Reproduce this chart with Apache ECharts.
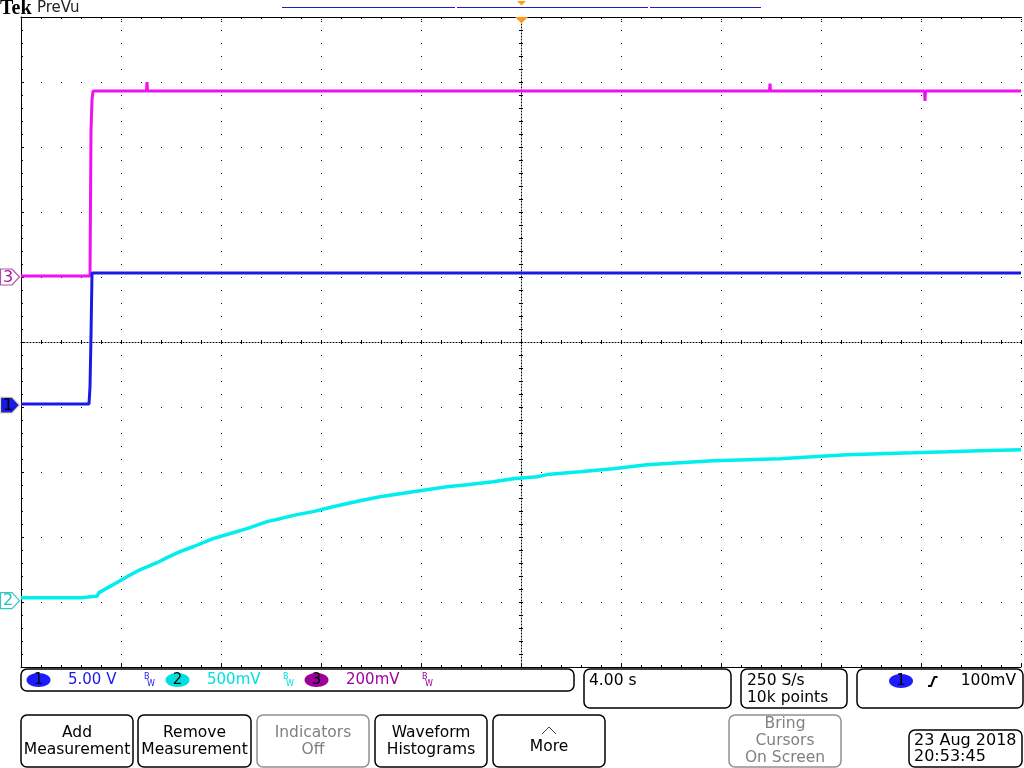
<!DOCTYPE html>
<html><head><meta charset="utf-8">
<script src="https://cdn.jsdelivr.net/npm/echarts@6/dist/echarts.min.js"></script>
<style>html,body{margin:0;padding:0;background:#fff}#c{width:1024px;height:768px}</style>
</head><body><div id="c"></div>
<script>
// ---- Data (time in seconds, 4.00 s/div, trigger at centre) ----
const timeMin = -20, timeMax = 20, timePerDiv = 4;
// Channel settings
const channelLabels  = ['1', '2', '3'];
const channelScales  = [5.0, 0.5, 0.2];     // V/div
const channelOffsets = [-0.97, -3.98, 1.0]; // position in divisions
const channelScaleText = ['5.00 V', '500mV', '200mV'];

// CH1 (blue)
const ch1Time  = [-20, -17.28, -17.24, -17.2, -17.16, 20];
const ch1Volts = [0.08, 0.08, 1.4, 5.3, 10.15, 10.15];

// CH2 (cyan)
const ch2Time  = [-20, -17.56, -17.24, -16.96, -16.88, -16.32, -15.76, -15.24, -14.56, -14.16,
                  -13.64, -13.12, -12.32, -11.52, -10.96, -10.16, -9.64, -8.96, -8.32, -7.52,
                  -6.44, -5.64, -4.84, -4.32, -2.96, -2.16, -1.12, -0.32, 0.64, 1.04,
                  2.36, 3.68, 5.04, 6.36, 7.68, 9.04, 10.36, 11.68, 13.04, 14.36,
                  15.68, 17.04, 18.36, 20];
const ch2Volts = [0.023, 0.023, 0.031, 0.035, 0.062, 0.123, 0.185, 0.238, 0.292, 0.331,
                  0.377, 0.415, 0.477, 0.523, 0.554, 0.608, 0.631, 0.662, 0.685, 0.723,
                  0.769, 0.800, 0.823, 0.838, 0.877, 0.892, 0.915, 0.938, 0.954, 0.970,
                  0.992, 1.015, 1.046, 1.062, 1.077, 1.085, 1.092, 1.108, 1.123, 1.131,
                  1.138, 1.146, 1.154, 1.162];

// CH3 (magenta)
const ch3Time  = [-20, -17.24, -17.2, -17.16, -17.12, -14.98, -14.96, -14.94, 9.94, 9.96, 9.98, 16.14, 16.16, 16.18, 20];
const ch3Volts = [0.003, 0.003, 0.45, 0.545, 0.572, 0.572, 0.600, 0.572, 0.572, 0.595, 0.572, 0.572, 0.542, 0.572, 0.572];

// ---- Build series data in screen divisions ----
function toDiv(times, volts, ch) {
  return times.map((t, i) => [t, channelOffsets[ch] + volts[i] / channelScales[ch]]);
}
const ch1Data = toDiv(ch1Time, ch1Volts, 0);
const ch2Data = toDiv(ch2Time, ch2Volts, 1);
const ch3Data = toDiv(ch3Time, ch3Volts, 2);

const C1 = '#1a1ae6', C2 = '#00eeee', C3 = '#f010f0', C3dark = '#a000a0';
const FONT = '"DejaVu Sans", Verdana, sans-serif';

const hide = {axisLabel:{show:false}, splitLine:{show:false}};
function xAx(extra) {
  return Object.assign({type:'value', min:timeMin, max:timeMax, interval:timePerDiv}, hide, extra);
}
function yAx(extra) {
  return Object.assign({type:'value', min:-5, max:5, interval:1}, hide, extra);
}
const blk = {color:'#000', width:1};

const chart = echarts.init(document.getElementById('c'), null, {renderer:'canvas'});
chart.setOption({
  animation:false,
  backgroundColor:'#fff',
  grid:{left:21, top:17, width:1000, height:650, outerBoundsMode:'none', containLabel:false},
  xAxis:[
    xAx({position:'bottom', axisLine:{show:true, onZero:false, lineStyle:blk},
         axisTick:{show:true, inside:true, length:4, lineStyle:blk},
         minorTick:{show:true, splitNumber:5, length:2, lineStyle:blk},
         splitLine:{show:true, lineStyle:{color:'#000', width:1, type:[1,12]}}}),
    xAx({position:'top', axisLine:{show:true, onZero:false, lineStyle:blk},
         axisTick:{show:true, inside:true, length:5, lineStyle:{color:'#000', width:1, type:[1,1]}},
         minorTick:{show:true, splitNumber:5, length:2, lineStyle:blk}}),
    xAx({position:'bottom', axisLine:{show:true, onZero:true, onZeroAxisIndex:0, lineStyle:{color:'#000', width:1, type:[1,2]}},
         axisTick:{show:true, inside:false, length:2, lineStyle:blk},
         minorTick:{show:true, splitNumber:5, length:2, lineStyle:blk}}),
    xAx({position:'bottom', axisLine:{show:false, onZero:true, onZeroAxisIndex:0},
         axisTick:{show:true, inside:true, length:2, lineStyle:blk},
         minorTick:{show:true, splitNumber:5, length:2, lineStyle:blk}})
  ],
  yAxis:[
    yAx({position:'left', axisLine:{show:true, onZero:false, lineStyle:blk},
         axisTick:{show:true, inside:true, length:3, lineStyle:blk},
         minorTick:{show:true, splitNumber:5, length:2, lineStyle:blk},
         splitLine:{show:true, lineStyle:{color:'#000', width:1, type:[1,19]}}}),
    yAx({position:'left', axisLine:{show:true, onZero:true, onZeroAxisIndex:0, lineStyle:{color:'#000', width:1, type:[1,2]}},
         axisTick:{show:true, inside:false, length:2, lineStyle:blk},
         minorTick:{show:true, splitNumber:5, length:2, lineStyle:blk}}),
    yAx({position:'left', axisLine:{show:false, onZero:true, onZeroAxisIndex:0},
         axisTick:{show:true, inside:true, length:2, lineStyle:blk},
         minorTick:{show:true, splitNumber:5, length:2, lineStyle:blk}})
  ],
  series:[
    {type:'line', name:'CH3', data:ch3Data, showSymbol:false, silent:true, z:3,
     lineStyle:{color:C3, width:3}},
    {type:'line', name:'CH1', data:ch1Data, showSymbol:false, silent:true, z:4,
     lineStyle:{color:C1, width:3}},
    {type:'line', name:'CH2', data:ch2Data, showSymbol:false, silent:true, z:5,
     lineStyle:{color:C2, width:3.5}}
  ]
});

// ---- Oscilloscope chrome ----
const g = [];
function txt(text, x, y, fill, size, align, extra) {
  g.push({type:'text', z:100, style:Object.assign({text:text, x:x, y:y, fill:fill||'#000',
    font:(size||15)+'px '+FONT, textAlign:align||'left', textVerticalAlign:'middle'}, extra||{})});
}
function rrect(x, y, w, h, stroke, lw) {
  g.push({type:'rect', z:90, shape:{x:x, y:y, width:w, height:h, r:6},
    style:{fill:'#fff', stroke:stroke||'#000', lineWidth:lw||1.5}});
}
function ell(cx, cy, fill, label) {
  g.push({type:'ellipse', z:95, shape:{cx:cx, cy:cy, rx:12, ry:7}, style:{fill:fill}});
  txt(label, cx, cy+0.5, '#000', 15, 'center');
}
function bw(x, color) {
  txt('B', x, 677, color, 8, 'left');
  txt('W', x+3, 684, color, 8, 'left');
}

// Header
txt('Tek', 0, 8.5, '#000', 20, 'left', {font:'bold 20px "Liberation Serif", serif'});
txt('PreVu', 37, 8, '#222', 15, 'left');
[[282,455],[457,648],[650,761]].forEach(s => g.push({type:'line', z:90,
  shape:{x1:s[0], y1:7.5, x2:s[1], y2:7.5}, style:{stroke:'#1c1cc8', lineWidth:1}}));
g.push({type:'polygon', z:95, shape:{points:[[517,1],[526,1],[521.5,5.5]]}, style:{fill:'#ff9c1a'}});
g.push({type:'polygon', z:95, shape:{points:[[515,17],[528,17],[521.5,23.5]]}, style:{fill:'#ff9c1a'}});

// Channel markers (positions from the axis scale)
const markerStyle = [
  {fill:C1, stroke:'#e8e2b8', text:'#000'},
  {fill:'#fff', stroke:'#30c8c8', text:'#20c0c0'},
  {fill:'#fff', stroke:'#b050b0', text:'#a020a0'}
];
channelOffsets.forEach((off, i) => {
  const cy = chart.convertToPixel({yAxisIndex:0}, off);
  const st = markerStyle[i];
  g.push({type:'polygon', z:95, shape:{points:[[0.5,cy-8],[12,cy-8],[19.5,cy],[12,cy+8],[0.5,cy+8]]},
    style:{fill:st.fill, stroke:st.stroke, lineWidth:1.2}});
  txt(channelLabels[i], 8, cy+0.5, st.text, 16, 'center');
});

// Status bar
rrect(21, 669, 553, 22);
ell(38.5, 680, '#1c1cff', '1');   txt(channelScaleText[0], 68, 680.5, C1, 15);  bw(144, C1);
ell(177.5, 680, '#00e0e0', '2');  txt(channelScaleText[1], 207, 680.5, '#00e0e0', 15); bw(283, '#00e0e0');
ell(316.5, 680, '#9b009b', '3');  txt(channelScaleText[2], 346, 680.5, C3dark, 15); bw(422, C3dark);

rrect(584, 669, 147, 39);
txt('4.00 s', 589, 681, '#000', 15.5);
rrect(741, 669, 106, 39);
txt('250 S/s', 747, 681, '#000', 15.5);
txt('10k points', 747, 698, '#000', 15.5);
rrect(857, 669, 166, 39);
ell(901, 681, '#1c1cff', '1');
g.push({type:'polyline', z:95, shape:{points:[[928,686],[931,686],[934.5,677],[937.5,677]]},
  style:{stroke:'#000', lineWidth:2, fill:null}});
txt('100mV', 1016, 681, '#000', 15.5, 'right');

// Buttons
function button(x, w, lines, grey) {
  const col = grey ? '#808080' : '#000';
  rrect(x, 715, w, 52, grey ? '#909090' : '#000', 1.5);
  const cx = x + w/2;
  const n = lines.length;
  const lh = 17;
  const start = 741 - (n-1)*lh/2;
  lines.forEach((l, i) => txt(l, cx, start + i*lh, col, 15.5, 'center'));
}
button(21, 112, ['Add', 'Measurement']);
button(138, 113, ['Remove', 'Measurement']);
button(257, 112, ['Indicators', 'Off'], true);
button(375, 112, ['Waveform', 'Histograms']);
rrect(493, 715, 112, 52);
g.push({type:'polyline', z:95, shape:{points:[[542,734],[549,727],[556,734]]},
  style:{stroke:'#444', lineWidth:1, fill:null}});
txt('More', 549, 747, '#000', 15.5, 'center');
button(729, 112, ['Bring', 'Cursors', 'On Screen'], true);

rrect(909, 730, 113, 37);
txt('23 Aug 2018', 914, 741, '#000', 16);
txt('20:53:45', 914, 757, '#000', 16);

chart.setOption({graphic:g});
</script>
</body></html>
